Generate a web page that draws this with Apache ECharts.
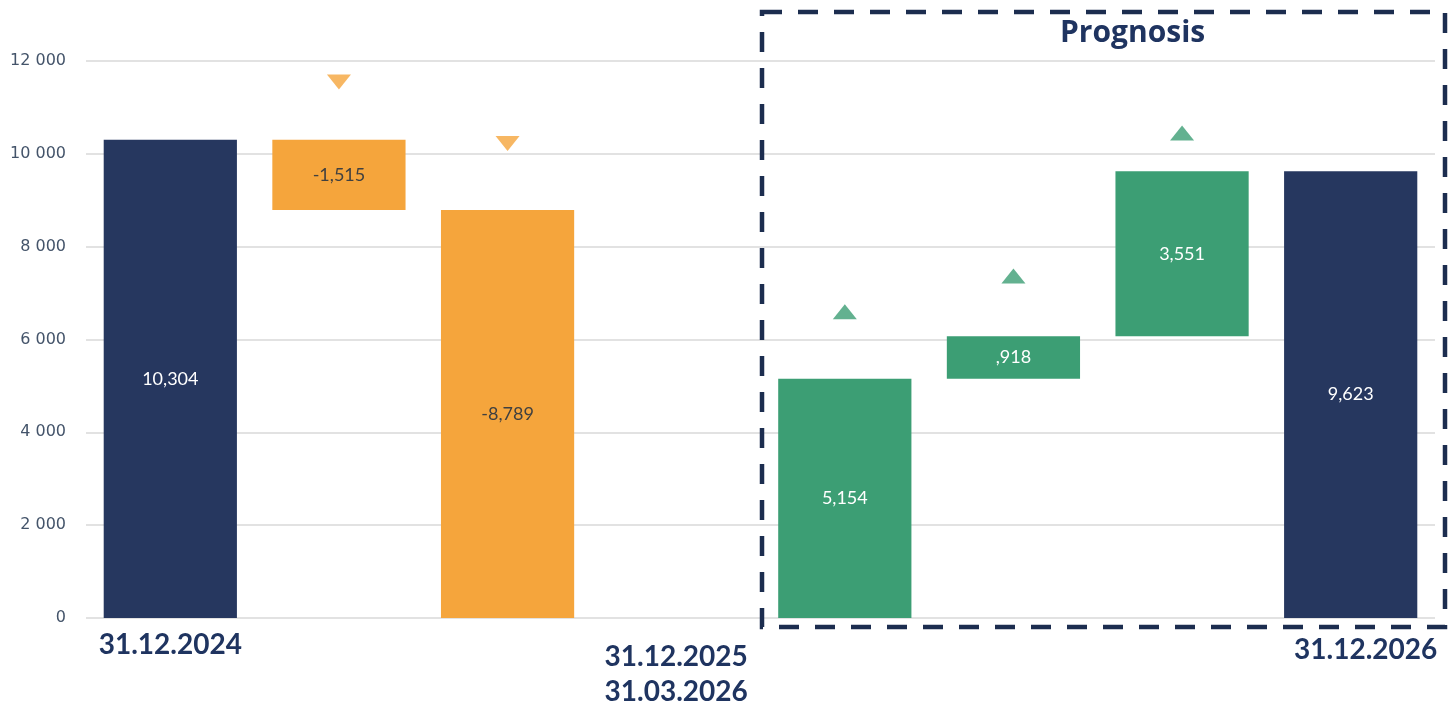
<!DOCTYPE html>
<html>
<head>
<meta charset="utf-8">
<script src="https://cdn.jsdelivr.net/npm/echarts@6/dist/echarts.min.js"></script>
<style>
  html, body { margin: 0; padding: 0; background: #ffffff; }
  #chart { width: 1456px; height: 711px; }
</style>
</head>
<body>
<div id="chart"></div>
<script>
// Waterfall steps: totals and changes per period
const categories = ['31.12.2024', '', '', '31.12.2025\n31.03.2026', '', '', '', '31.12.2026'];
const kinds      = ['total', 'delta', 'delta', 'empty', 'delta', 'delta', 'delta', 'total'];
const changes    = [10304, -1515, -8789, null, 5154, 918, 3551, 9623];
// Direction markers above the change bars
const downMarkers = [null, 11550, 10220, null, null, null, null, null];
const upMarkers   = [null, null, null, null, 6600, 7370, 10450, null];
const yTicks = [0, 2000, 4000, 6000, 8000, 10000, 12000];

const NAVY = '#26375f';
const ORANGE = '#f5a53c';
const GREEN = '#3c9e74';
const TEXT_NAVY = '#1f3460';

// running level -> invisible base + visible height
let level = 0;
const baseData = [];
const barData = [];
changes.forEach((v, i) => {
  if (kinds[i] === 'empty' || v == null) {
    baseData.push(null);
    barData.push(null);
    return;
  }
  if (kinds[i] === 'total') {
    level = v;
    baseData.push(0);
    barData.push({ value: v, raw: v, itemStyle: { color: NAVY }, label: { color: '#ffffff' } });
  } else {
    const start = level;
    const end = level + v;
    level = end;
    const neg = v < 0;
    baseData.push(Math.min(start, end));
    barData.push({
      value: Math.abs(v), raw: v,
      itemStyle: { color: neg ? ORANGE : GREEN },
      label: { color: neg ? '#404040' : '#ffffff' }
    });
  }
});

function fmtValue(v) {
  const sign = v < 0 ? '-' : '';
  const a = Math.abs(v);
  const th = Math.floor(a / 1000);
  const rest = String(a % 1000).padStart(3, '0');
  return sign + (th ? th : '') + ',' + rest;
}

const labelStyleFor = {
  '31.12.2024': 'a',
  '31.12.2025\n31.03.2026': 'b',
  '31.12.2026': 'c'
};

const chart = echarts.init(document.getElementById('chart'));
chart.setOption({
  animation: false,
  backgroundColor: '#ffffff',
  title: {
    text: 'Prognosis',
    left: 1055,
    top: 13,
    textStyle: { fontFamily: 'Open Sans', fontWeight: 'bold', fontSize: 30, color: TEXT_NAVY }
  },
  grid: { left: 86, right: 21, top: 61, bottom: 93, containLabel: false },
  xAxis: {
    type: 'category',
    data: categories,
    axisLine: { show: false },
    axisTick: { show: false },
    axisLabel: {
      interval: 0,
      margin: 8,
      formatter: function (value) {
        const s = labelStyleFor[value];
        if (!s) return '';
        const lines = value.split('\n');
        return lines.map((l, k) => '{' + s + (k === 0 ? '1' : '2') + '|' + l + '}').join('\n');
      },
      rich: {
        a1: { fontFamily: 'Lato', fontWeight: 'bold', fontSize: 28, color: TEXT_NAVY, lineHeight: 38 },
        b1: { fontFamily: 'Lato', fontWeight: 'bold', fontSize: 28, color: TEXT_NAVY, lineHeight: 38, padding: [24, 0, 0, 0] },
        b2: { fontFamily: 'Lato', fontWeight: 'bold', fontSize: 28, color: TEXT_NAVY, lineHeight: 38, padding: [18, 0, 0, 0] },
        c1: { fontFamily: 'Lato', fontWeight: 'bold', fontSize: 28, color: TEXT_NAVY, lineHeight: 38, padding: [10, 0, 0, 30] }
      }
    }
  },
  yAxis: {
    type: 'value',
    min: yTicks[0],
    max: yTicks[yTicks.length - 1],
    interval: yTicks[1] - yTicks[0],
    axisLine: { show: false },
    axisTick: { show: false },
    splitLine: { lineStyle: { color: '#d9d9d9', width: 1.5 } },
    axisLabel: {
      margin: 20,
      fontFamily: 'DejaVu Sans',
      fontSize: 16,
      color: '#44546a',
      formatter: v => String(v).replace(/\B(?=(\d{3})+(?!\d))/g, ' ')
    }
  },
  series: [
    {
      type: 'bar',
      stack: 'w',
      data: baseData,
      barWidth: '79%',
      itemStyle: { color: 'transparent' },
      silent: true
    },
    {
      type: 'bar',
      stack: 'w',
      data: barData,
      barWidth: '79%',
      label: {
        show: true,
        position: 'inside',
        fontFamily: 'Lato',
        fontSize: 18,
        formatter: p => fmtValue(p.data.raw)
      }
    },
    {
      type: 'scatter',
      data: downMarkers,
      symbol: 'triangle',
      symbolRotate: 180,
      symbolSize: [24, 15],
      itemStyle: { color: ORANGE }
    },
    {
      type: 'scatter',
      data: upMarkers,
      symbol: 'triangle',
      symbolSize: [24, 15],
      itemStyle: { color: GREEN }
    }
  ],
  graphic: [
    {
      type: 'rect',
      shape: { x: 762, y: 12, width: 683, height: 615 },
      style: { fill: 'none', stroke: '#1c2d4f', lineWidth: 4.5, lineDash: [20, 16] },
      z: 10
    }
  ]
});
</script>
</body>
</html>
